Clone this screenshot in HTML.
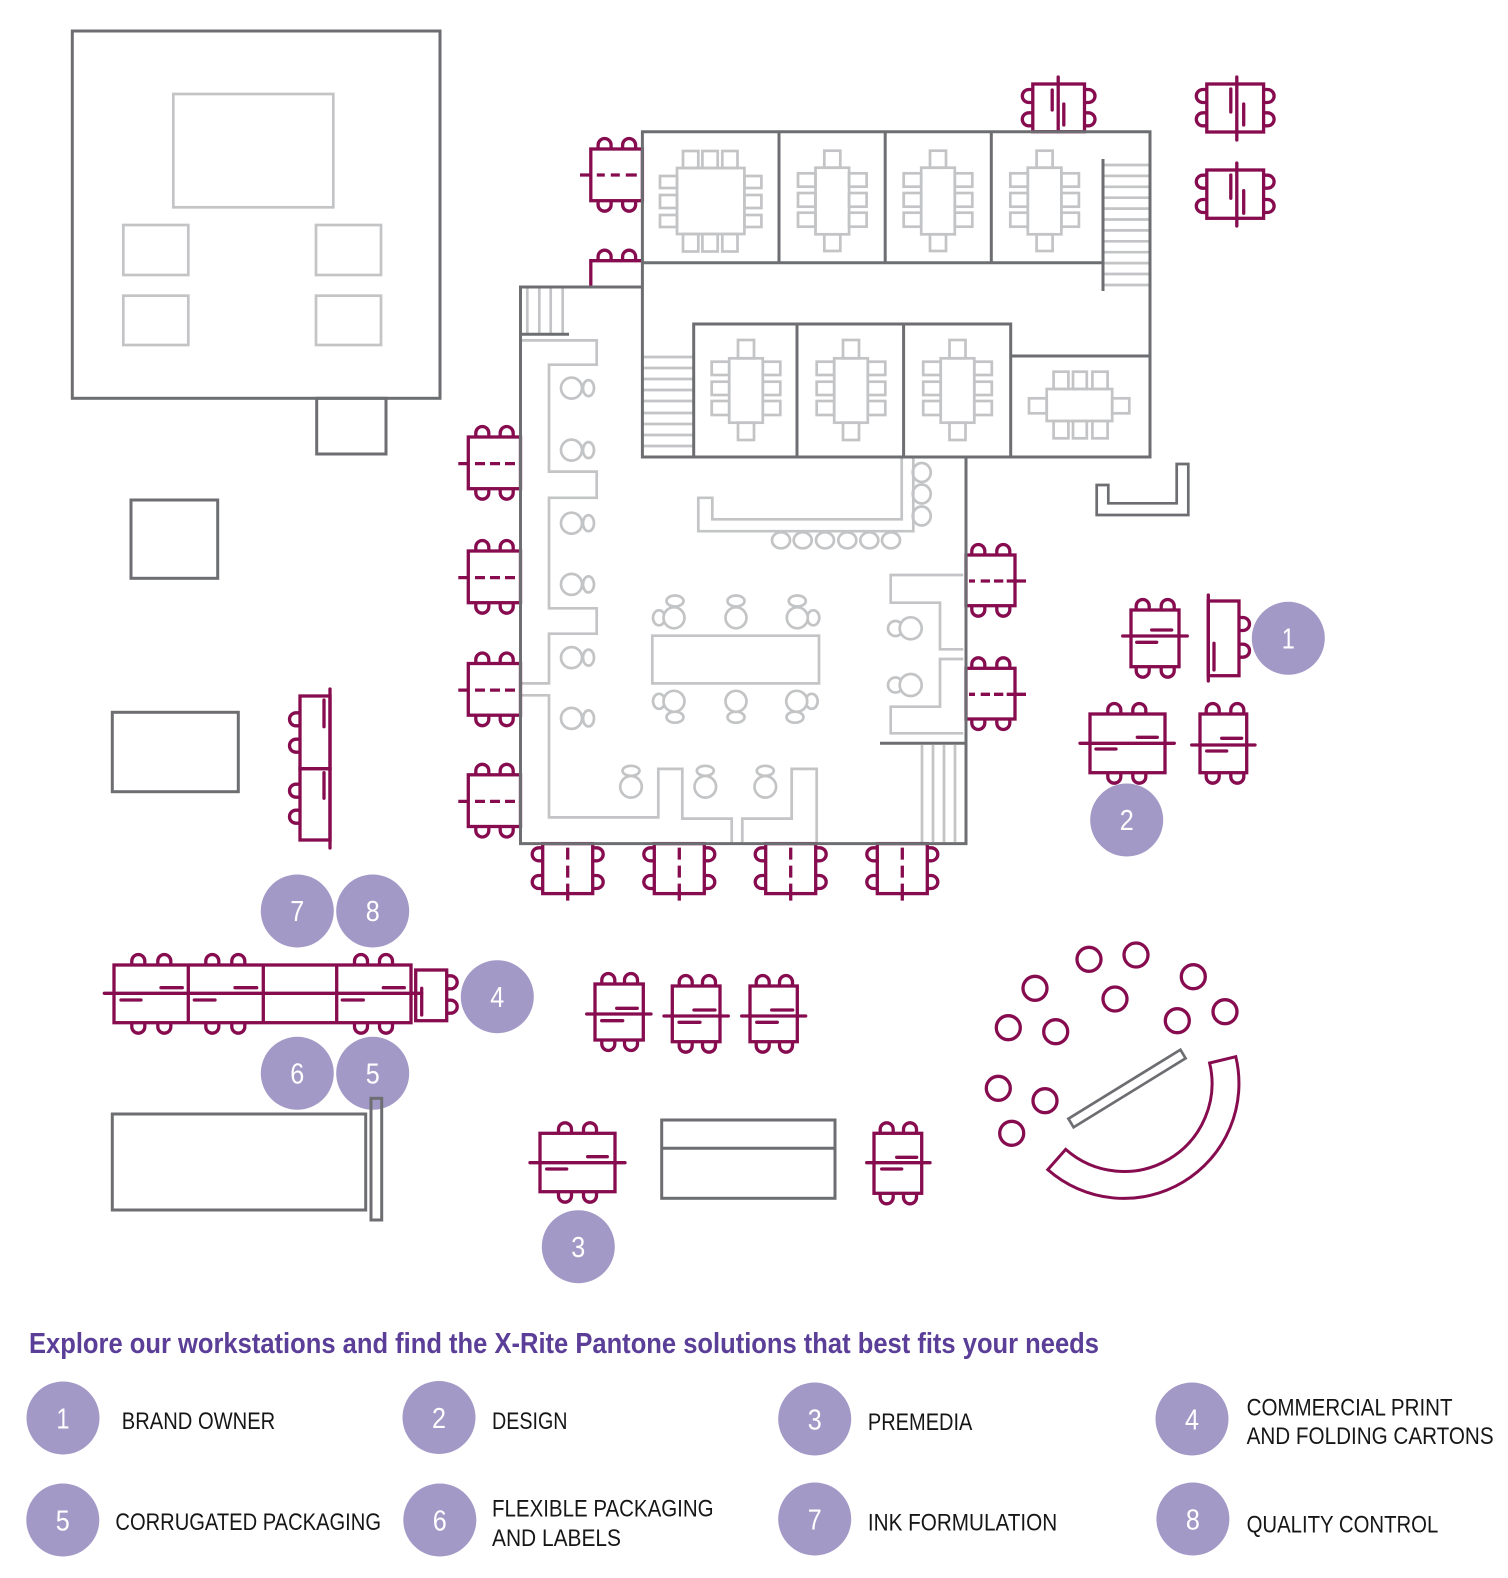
<!DOCTYPE html>
<html><head><meta charset="utf-8"><style>
html,body{margin:0;padding:0;background:#fff;}
svg{display:block;}
.dk{fill:none;stroke:#6d6e71;stroke-width:3;}
.lt{fill:none;stroke:#c3c4c6;stroke-width:2.7;}
.ltw{fill:#fff;stroke:#c3c4c6;stroke-width:2.7;}
.m{fill:none;stroke:#870c4f;stroke-width:3.3;}
.mr{fill:none;stroke:#870c4f;stroke-width:3.3;stroke-linecap:round;}
.cir{fill:#a399c7;}
.num{fill:#fff;font-family:"Liberation Sans",sans-serif;font-size:29px;text-anchor:middle;}
.lg{fill:#161616;font-family:"Liberation Sans",sans-serif;font-size:24px;}
</style></head><body>
<svg width="1508" height="1578" viewBox="0 0 1508 1578" xmlns="http://www.w3.org/2000/svg">
<rect width="1508" height="1578" fill="#fff"/>

<!-- LEFT BUILDING -->
<rect class="dk" x="72.3" y="31" width="367.7" height="367.3"/>
<rect class="lt" x="173.3" y="94" width="160" height="113.3"/>
<rect class="lt" x="123.3" y="225" width="65" height="50"/>
<rect class="lt" x="123.3" y="295.7" width="65" height="49.3"/>
<rect class="lt" x="316" y="225" width="65" height="50"/>
<rect class="lt" x="316" y="295.7" width="65" height="49.3"/>
<rect class="dk" x="316.7" y="398.3" width="69.3" height="55.7"/>
<rect class="dk" x="131" y="500" width="86.7" height="78.3"/>
<rect class="dk" x="112.3" y="712.3" width="126" height="79.4"/>

<!-- STAIRS (light) -->
<path class="lt" d="M1103,165H1150M1103,175.9H1150M1103,186.8H1150M1103,197.7H1150M1103,208.6H1150M1103,219.5H1150M1103,230.4H1150M1103,241.3H1150M1103,252.2H1150M1103,263.1H1150M1103,274H1150M1103,285H1150"/>
<path class="lt" d="M642.4,357H693.7M642.4,368H693.7M642.4,379H693.7M642.4,390H693.7M642.4,401H693.7M642.4,413H693.7M642.4,424H693.7M642.4,435H693.7M642.4,446H693.7"/>
<path class="lt" d="M527.3,288V333M539.3,288V333M550.7,288V333M562.7,288V333"/>
<path class="lt" d="M922,745V842M933,745V842M944,745V842M955,745V842"/>

<!-- MEETING ROOM TABLES -->
<g class="lt">
<rect x="677" y="168" width="67.4" height="66"/>
<rect x="683" y="151" width="15.3" height="17"/><rect x="702.4" y="151" width="15.3" height="17"/><rect x="722.3" y="151" width="15.2" height="17"/>
<rect x="683" y="234" width="15.3" height="17.5"/><rect x="702.4" y="234" width="15.3" height="17.5"/><rect x="722.3" y="234" width="15.2" height="17.5"/>
<rect x="660" y="176" width="17" height="12"/><rect x="660" y="195" width="17" height="13"/><rect x="660" y="215" width="17" height="12"/>
<rect x="744.4" y="176" width="17" height="12"/><rect x="744.4" y="195" width="17" height="13"/><rect x="744.4" y="215" width="17" height="12"/>
</g>
<g class="lt" transform="translate(832.3,0)">
<rect x="-16.8" y="167.7" width="33.6" height="66.6"/><rect x="-8" y="150.7" width="16" height="17"/><rect x="-8" y="234.3" width="16" height="16.7"/>
<rect x="-34.3" y="173.3" width="17.5" height="13.4"/><rect x="-34.3" y="193" width="17.5" height="13.7"/><rect x="-34.3" y="212.7" width="17.5" height="14"/>
<rect x="16.8" y="173.3" width="17.5" height="13.4"/><rect x="16.8" y="193" width="17.5" height="13.7"/><rect x="16.8" y="212.7" width="17.5" height="14"/>
</g>
<g class="lt" transform="translate(938,0)">
<rect x="-16.8" y="167.7" width="33.6" height="66.6"/><rect x="-8" y="150.7" width="16" height="17"/><rect x="-8" y="234.3" width="16" height="16.7"/>
<rect x="-34.3" y="173.3" width="17.5" height="13.4"/><rect x="-34.3" y="193" width="17.5" height="13.7"/><rect x="-34.3" y="212.7" width="17.5" height="14"/>
<rect x="16.8" y="173.3" width="17.5" height="13.4"/><rect x="16.8" y="193" width="17.5" height="13.7"/><rect x="16.8" y="212.7" width="17.5" height="14"/>
</g>
<g class="lt" transform="translate(1044.6,0)">
<rect x="-16.8" y="167.7" width="33.6" height="66.6"/><rect x="-8" y="150.7" width="16" height="17"/><rect x="-8" y="234.3" width="16" height="16.7"/>
<rect x="-34.3" y="173.3" width="17.5" height="13.4"/><rect x="-34.3" y="193" width="17.5" height="13.7"/><rect x="-34.3" y="212.7" width="17.5" height="14"/>
<rect x="16.8" y="173.3" width="17.5" height="13.4"/><rect x="16.8" y="193" width="17.5" height="13.7"/><rect x="16.8" y="212.7" width="17.5" height="14"/>
</g>
<g class="lt" transform="translate(746,0)">
<rect x="-16.8" y="358.3" width="33.6" height="64.4"/><rect x="-8" y="340" width="16" height="18.3"/><rect x="-8" y="422.7" width="16" height="17.3"/>
<rect x="-34.3" y="361.7" width="17.5" height="13.3"/><rect x="-34.3" y="381.7" width="17.5" height="13.3"/><rect x="-34.3" y="401" width="17.5" height="14"/>
<rect x="16.8" y="361.7" width="17.5" height="13.3"/><rect x="16.8" y="381.7" width="17.5" height="13.3"/><rect x="16.8" y="401" width="17.5" height="14"/>
</g>
<g class="lt" transform="translate(851,0)">
<rect x="-16.8" y="358.3" width="33.6" height="64.4"/><rect x="-8" y="340" width="16" height="18.3"/><rect x="-8" y="422.7" width="16" height="17.3"/>
<rect x="-34.3" y="361.7" width="17.5" height="13.3"/><rect x="-34.3" y="381.7" width="17.5" height="13.3"/><rect x="-34.3" y="401" width="17.5" height="14"/>
<rect x="16.8" y="361.7" width="17.5" height="13.3"/><rect x="16.8" y="381.7" width="17.5" height="13.3"/><rect x="16.8" y="401" width="17.5" height="14"/>
</g>
<g class="lt" transform="translate(957.5,0)">
<rect x="-16.8" y="358.3" width="33.6" height="64.4"/><rect x="-8" y="340" width="16" height="18.3"/><rect x="-8" y="422.7" width="16" height="17.3"/>
<rect x="-34.3" y="361.7" width="17.5" height="13.3"/><rect x="-34.3" y="381.7" width="17.5" height="13.3"/><rect x="-34.3" y="401" width="17.5" height="14"/>
<rect x="16.8" y="361.7" width="17.5" height="13.3"/><rect x="16.8" y="381.7" width="17.5" height="13.3"/><rect x="16.8" y="401" width="17.5" height="14"/>
</g>
<g class="lt">
<rect x="1046.7" y="389" width="65.5" height="32"/>
<rect x="1053.6" y="371.7" width="14.8" height="17.3"/><rect x="1073" y="371.7" width="13.8" height="17.3"/><rect x="1092.4" y="371.7" width="15.2" height="17.3"/>
<rect x="1053.6" y="421" width="14.8" height="17.3"/><rect x="1073" y="421" width="13.8" height="17.3"/><rect x="1092.4" y="421" width="15.2" height="17.3"/>
<rect x="1029" y="398.3" width="17.7" height="15"/><rect x="1112.2" y="398.3" width="17.1" height="15"/>
</g>

<!-- LOUNGE (light gray) -->
<g class="lt">
<path d="M520.5,340.4H596.7V364.7H549V471.6H596.7V497.8H549V608.3H596.7V633.7H549V683.4H520.5"/>
<path d="M520.5,695.3H549V817.4H658.3V768.9H682.3V818.6H731.7V843.6"/>
<path d="M742.3,843.6V818.6H791.7V768.9H816.7V843.6"/>
<path d="M698.3,531.2V497.8H712.3V519.3H901.7V457H913.3V531.2Z"/>
<path d="M963.3,575H890.7V602.7H940V649.3H963.3"/>
<path d="M963.3,659H940V706.7H890.7V733.3H963.3"/>
<rect x="652.3" y="635.7" width="166.7" height="47.7"/>
</g>
<!-- left column stools -->
<g>
<ellipse class="lt" cx="588.5" cy="388.1" rx="5.5" ry="8"/><circle class="ltw" cx="571.5" cy="388.1" r="10.5"/>
<ellipse class="lt" cx="588.5" cy="450.1" rx="5.5" ry="8"/><circle class="ltw" cx="571.5" cy="450.1" r="10.5"/>
<ellipse class="lt" cx="588.5" cy="523.2" rx="5.5" ry="8"/><circle class="ltw" cx="571.5" cy="523.2" r="10.5"/>
<ellipse class="lt" cx="588.5" cy="584.4" rx="5.5" ry="8"/><circle class="ltw" cx="571.5" cy="584.4" r="10.5"/>
<ellipse class="lt" cx="588.5" cy="657.6" rx="5.5" ry="8"/><circle class="ltw" cx="571.5" cy="657.6" r="10.5"/>
<ellipse class="lt" cx="588.5" cy="718.4" rx="5.5" ry="8"/><circle class="ltw" cx="571.5" cy="718.4" r="10.5"/>
</g>
<!-- table stools -->
<g>
<ellipse class="lt" cx="675" cy="601" rx="8.5" ry="5.5"/><ellipse class="lt" cx="659" cy="617.8" rx="6" ry="7.5"/><circle class="ltw" cx="674" cy="617.8" r="10.5"/>
<ellipse class="lt" cx="736" cy="601" rx="8.5" ry="5.5"/><circle class="ltw" cx="736" cy="617.8" r="10.5"/>
<ellipse class="lt" cx="797.3" cy="601" rx="8.5" ry="5.5"/><ellipse class="lt" cx="813.3" cy="617.8" rx="6" ry="7.5"/><circle class="ltw" cx="797.3" cy="617.8" r="10.5"/>
<ellipse class="lt" cx="675" cy="717.2" rx="8.5" ry="5.5"/><ellipse class="lt" cx="659" cy="701.3" rx="6" ry="7.5"/><circle class="ltw" cx="674" cy="701.3" r="10.5"/>
<ellipse class="lt" cx="736" cy="717.2" rx="8.5" ry="5.5"/><circle class="ltw" cx="736" cy="701.3" r="10.5"/>
<ellipse class="lt" cx="795" cy="717.2" rx="8.5" ry="5.5"/><ellipse class="lt" cx="811.7" cy="701.3" rx="6" ry="7.5"/><circle class="ltw" cx="796.7" cy="701.3" r="10.5"/>
</g>
<!-- bottom stools -->
<g>
<ellipse class="lt" cx="631" cy="770.8" rx="8.5" ry="5"/><circle class="ltw" cx="631" cy="786.8" r="10.8"/>
<ellipse class="lt" cx="705.3" cy="770.8" rx="8.5" ry="5"/><circle class="ltw" cx="705.3" cy="786.8" r="10.8"/>
<ellipse class="lt" cx="765.3" cy="770.8" rx="8.5" ry="5"/><circle class="ltw" cx="765.3" cy="786.8" r="10.8"/>
</g>
<!-- bar stools -->
<g class="lt">
<ellipse cx="781" cy="540.3" rx="9" ry="8"/><ellipse cx="802.7" cy="540.3" rx="9" ry="8"/><ellipse cx="825" cy="540.3" rx="9" ry="8"/>
<ellipse cx="847.3" cy="540.3" rx="9" ry="8"/><ellipse cx="869.3" cy="540.3" rx="9" ry="8"/><ellipse cx="891" cy="540.3" rx="9" ry="8"/>
<ellipse cx="921.7" cy="472.5" rx="9" ry="9.5"/><ellipse cx="921.7" cy="494" rx="9" ry="9.5"/><ellipse cx="921.7" cy="516" rx="9" ry="9.5"/>
</g>
<!-- right panel stools -->
<g>
<circle class="lt" cx="895.5" cy="628.5" r="7.5"/><circle class="ltw" cx="910.7" cy="628.3" r="11"/>
<circle class="lt" cx="895.5" cy="685" r="7.5"/><circle class="ltw" cx="910.7" cy="685" r="11"/>
</g>

<!-- MAGENTA DESKS -->
<!-- left side of main building -->
<g class="m" transform="translate(468.3,437)"><rect width="52.2" height="51.7"/><path d="M7.5,0v-4a6.5,6.5 0 0 1 13,0v4M31.9,0v-4a6.5,6.5 0 0 1 13,0v4M7.5,51.7v4a6.5,6.5 0 0 0 13,0v-4M31.9,51.7v4a6.5,6.5 0 0 0 13,0v-4"/><path d="M-10,26.6H0M6.7,26.6H16.7M21.7,26.6H31.7M36.7,26.6H46.7"/></g>
<g class="m" transform="translate(468.3,551)"><rect width="52.2" height="51.7"/><path d="M7.5,0v-4a6.5,6.5 0 0 1 13,0v4M31.9,0v-4a6.5,6.5 0 0 1 13,0v4M7.5,51.7v4a6.5,6.5 0 0 0 13,0v-4M31.9,51.7v4a6.5,6.5 0 0 0 13,0v-4"/><path d="M-10,26.6H0M6.7,26.6H16.7M21.7,26.6H31.7M36.7,26.6H46.7"/></g>
<g class="m" transform="translate(468.3,663.5)"><rect width="52.2" height="51.7"/><path d="M7.5,0v-4a6.5,6.5 0 0 1 13,0v4M31.9,0v-4a6.5,6.5 0 0 1 13,0v4M7.5,51.7v4a6.5,6.5 0 0 0 13,0v-4M31.9,51.7v4a6.5,6.5 0 0 0 13,0v-4"/><path d="M-10,26.6H0M6.7,26.6H16.7M21.7,26.6H31.7M36.7,26.6H46.7"/></g>
<g class="m" transform="translate(468.3,774.8)"><rect width="52.2" height="51.7"/><path d="M7.5,0v-4a6.5,6.5 0 0 1 13,0v4M31.9,0v-4a6.5,6.5 0 0 1 13,0v4M7.5,51.7v4a6.5,6.5 0 0 0 13,0v-4M31.9,51.7v4a6.5,6.5 0 0 0 13,0v-4"/><path d="M-10,26.6H0M6.7,26.6H16.7M21.7,26.6H31.7M36.7,26.6H46.7"/></g>
<!-- right side of main building -->
<g class="m" transform="translate(966,555)"><rect width="49" height="50.7"/><path d="M5.8,0v-4a6.5,6.5 0 0 1 13,0v4M30.8,0v-4a6.5,6.5 0 0 1 13,0v4M5.8,50.7v4a6.5,6.5 0 0 0 13,0v-4M30.8,50.7v4a6.5,6.5 0 0 0 13,0v-4"/><path d="M3,26H9M14.7,26H24M28,26H37.3M40.7,26H60"/></g>
<g class="m" transform="translate(966,668.3)"><rect width="49" height="50.7"/><path d="M5.8,0v-4a6.5,6.5 0 0 1 13,0v4M30.8,0v-4a6.5,6.5 0 0 1 13,0v4M5.8,50.7v4a6.5,6.5 0 0 0 13,0v-4M30.8,50.7v4a6.5,6.5 0 0 0 13,0v-4"/><path d="M3,26H9M14.7,26H24M28,26H37.3M40.7,26H60"/></g>
<!-- top-left desks -->
<g class="m" transform="translate(590.8,149)"><rect width="51.6" height="51.7"/><path d="M7.3,0v-4a6.5,6.5 0 0 1 13,0v4M31.8,0v-4a6.5,6.5 0 0 1 13,0v4M7.3,51.7v4a6.5,6.5 0 0 0 13,0v-4M31.8,51.7v4a6.5,6.5 0 0 0 13,0v-4"/><path d="M-10.8,26H0M6,26H14M20,26H29M35,26H46"/></g>
<g class="m"><path d="M590.8,287V260.7H642.4M598.1,260.7v-4a6.5,6.5 0 0 1 13,0v4M622.6,260.7v-4a6.5,6.5 0 0 1 13,0v4"/></g>
<!-- bottom of main building -->
<g class="m" transform="translate(542.7,843.6)"><rect width="50" height="50"/><path d="M0,4.2h-4a6.5,6.5 0 0 0 0,13h4M0,31.9h-4a6.5,6.5 0 0 0 0,13h4M50,4.2h4a6.5,6.5 0 0 1 0,13h-4M50,31.9h4a6.5,6.5 0 0 1 0,13h-4"/><path d="M25,4V16M25,22V34M25,40V57"/></g>
<g class="m" transform="translate(654.3,843.6)"><rect width="50" height="50"/><path d="M0,4.2h-4a6.5,6.5 0 0 0 0,13h4M0,31.9h-4a6.5,6.5 0 0 0 0,13h4M50,4.2h4a6.5,6.5 0 0 1 0,13h-4M50,31.9h4a6.5,6.5 0 0 1 0,13h-4"/><path d="M25,4V16M25,22V34M25,40V57"/></g>
<g class="m" transform="translate(765.7,843.6)"><rect width="50" height="50"/><path d="M0,4.2h-4a6.5,6.5 0 0 0 0,13h4M0,31.9h-4a6.5,6.5 0 0 0 0,13h4M50,4.2h4a6.5,6.5 0 0 1 0,13h-4M50,31.9h4a6.5,6.5 0 0 1 0,13h-4"/><path d="M25,4V16M25,22V34M25,40V57"/></g>
<g class="m" transform="translate(877.3,843.6)"><rect width="50" height="50"/><path d="M0,4.2h-4a6.5,6.5 0 0 0 0,13h4M0,31.9h-4a6.5,6.5 0 0 0 0,13h4M50,4.2h4a6.5,6.5 0 0 1 0,13h-4M50,31.9h4a6.5,6.5 0 0 1 0,13h-4"/><path d="M25,4V16M25,22V34M25,40V57"/></g>
<!-- top rotated desks -->
<g class="m" transform="translate(1032.8,84)"><rect width="51.7" height="47.7"/><path d="M0,5.5h-4a6.5,6.5 0 0 0 0,13h4M0,28.8h-4a6.5,6.5 0 0 0 0,13h4M51.7,5.5h4a6.5,6.5 0 0 1 0,13h-4M51.7,28.8h4a6.5,6.5 0 0 1 0,13h-4"/><path class="mr" d="M25.4,-7V47.7M19.4,6V26M31,20V41"/></g>
<g class="m" transform="translate(1206.8,84)"><rect width="56.8" height="48"/><path d="M0,5.5h-4a6.5,6.5 0 0 0 0,13h4M0,28.8h-4a6.5,6.5 0 0 0 0,13h4M56.8,5.5h4a6.5,6.5 0 0 1 0,13h-4M56.8,28.8h4a6.5,6.5 0 0 1 0,13h-4"/><path class="mr" d="M30,-7V56M24,5V28M36.9,20V41"/></g>
<g class="m" transform="translate(1206.8,170)"><rect width="56.8" height="48.3"/><path d="M0,5.2h-4a6.5,6.5 0 0 0 0,13h4M0,29.5h-4a6.5,6.5 0 0 0 0,13h4M56.8,5.2h4a6.5,6.5 0 0 1 0,13h-4M56.8,29.5h4a6.5,6.5 0 0 1 0,13h-4"/><path class="mr" d="M30,-7V56M24,5V28.3M36.9,20.7V43.3"/></g>

<!-- right cluster -->
<g class="m">
<rect x="1131" y="610" width="48" height="56.7"/>
<path d="M1136.2,610v-4a6.5,6.5 0 0 1 13,0v4M1161.2,610v-4a6.5,6.5 0 0 1 13,0v4M1136.2,666.7v4a6.5,6.5 0 0 0 13,0v-4M1161.2,666.7v4a6.5,6.5 0 0 0 13,0v-4"/>
<path class="mr" d="M1122.7,636H1187.3M1151.7,630H1171.7M1136.7,642.3H1156.7"/>
<rect x="1208.3" y="601" width="30.7" height="74.7"/>
<path d="M1239,617.5h4a6.5,6.5 0 0 1 0,13h-4M1239,644.2h4a6.5,6.5 0 0 1 0,13h-4"/>
<path class="mr" d="M1208.3,595V681M1214,643.3V670"/>
<rect x="1090" y="714" width="75" height="58.7"/>
<path d="M1107.8,714v-4a6.5,6.5 0 0 1 13,0v4M1132.8,714v-4a6.5,6.5 0 0 1 13,0v4M1107.8,772.7v4a6.5,6.5 0 0 0 13,0v-4M1132.8,772.7v4a6.5,6.5 0 0 0 13,0v-4"/>
<path class="mr" d="M1080,743.3H1174.3M1137.3,737.3H1157.3M1096,749H1116"/>
<rect x="1200" y="714" width="46.7" height="58.7"/>
<path d="M1206.2,714v-4a6.5,6.5 0 0 1 13,0v4M1230.8,714v-4a6.5,6.5 0 0 1 13,0v4M1206.2,772.7v4a6.5,6.5 0 0 0 13,0v-4M1230.8,772.7v4a6.5,6.5 0 0 0 13,0v-4"/>
<path class="mr" d="M1191.7,745H1255M1221.7,738.3H1241.7M1206.7,751H1226.7"/>
</g>

<!-- bottom middle desks -->
<g class="m">
<rect x="595" y="984" width="48.3" height="56"/>
<path d="M601.8,984v-4a6.5,6.5 0 0 1 13,0v4M624.5,984v-4a6.5,6.5 0 0 1 13,0v4M601.8,1040v4a6.5,6.5 0 0 0 13,0v-4M624.5,1040v4a6.5,6.5 0 0 0 13,0v-4"/>
<path class="mr" d="M586.7,1014H651M616.7,1008.3H637.3M601.7,1020.7H622.7"/>
<rect x="672.3" y="986" width="47.7" height="55.7"/>
<path d="M679.2,986v-4a6.5,6.5 0 0 1 13,0v4M702.5,986v-4a6.5,6.5 0 0 1 13,0v4M679.2,1041.7v4a6.5,6.5 0 0 0 13,0v-4M702.5,1041.7v4a6.5,6.5 0 0 0 13,0v-4"/>
<path class="mr" d="M664,1016H728.3M694,1010H715M679,1022.3H700"/>
<rect x="750" y="986" width="47.3" height="55.7"/>
<path d="M756.2,986v-4a6.5,6.5 0 0 1 13,0v4M779.5,986v-4a6.5,6.5 0 0 1 13,0v4M756.2,1041.7v4a6.5,6.5 0 0 0 13,0v-4M779.5,1041.7v4a6.5,6.5 0 0 0 13,0v-4"/>
<path class="mr" d="M741.7,1016H805.7M771.7,1010H792.7M756.7,1022.3H777.3"/>
<rect x="540" y="1133.3" width="75" height="58.4"/>
<path d="M558.5,1133.3v-4a6.5,6.5 0 0 1 13,0v4M583.5,1133.3v-4a6.5,6.5 0 0 1 13,0v4M558.5,1191.7v4a6.5,6.5 0 0 0 13,0v-4M583.5,1191.7v4a6.5,6.5 0 0 0 13,0v-4"/>
<path class="mr" d="M530,1162.7H625M587.7,1156.7H607.3M546.7,1169H566.7"/>
<rect x="874" y="1133.3" width="47.7" height="60"/>
<path d="M880.2,1133.3v-4a6.5,6.5 0 0 1 13,0v4M903.5,1133.3v-4a6.5,6.5 0 0 1 13,0v4M880.2,1193.3v4a6.5,6.5 0 0 0 13,0v-4M903.5,1193.3v4a6.5,6.5 0 0 0 13,0v-4"/>
<path class="mr" d="M866.7,1162.7H930M896.7,1157.3H916.7M881.7,1169H901.7"/>
</g>

<!-- left vertical desk pair -->
<g class="m">
<rect x="300" y="696" width="30" height="72.7"/>
<rect x="300" y="768.7" width="30" height="71.3"/>
<path d="M300,712.8h-4a6.5,6.5 0 0 0 0,13h4M300,739.2h-4a6.5,6.5 0 0 0 0,13h4M300,784.2h-4a6.5,6.5 0 0 0 0,13h4M300,810.2h-4a6.5,6.5 0 0 0 0,13h4"/>
<path class="mr" d="M330,689V848M324,700V726.7M324,772.7V798.3"/>
</g>

<!-- bottom-left desk row -->
<g class="m">
<rect x="114" y="965" width="297" height="57.7"/>
<path d="M188.3,965V1022.7M263.3,965V1022.7M336.7,965V1022.7"/>
<path d="M131.8,965v-4a6.5,6.5 0 0 1 13,0v4M157.8,965v-4a6.5,6.5 0 0 1 13,0v4M205.8,965v-4a6.5,6.5 0 0 1 13,0v4M231.8,965v-4a6.5,6.5 0 0 1 13,0v4M354.5,965v-4a6.5,6.5 0 0 1 13,0v4M379.5,965v-4a6.5,6.5 0 0 1 13,0v4"/>
<path d="M131.8,1022.7v4a6.5,6.5 0 0 0 13,0v-4M157.8,1022.7v4a6.5,6.5 0 0 0 13,0v-4M205.8,1022.7v4a6.5,6.5 0 0 0 13,0v-4M231.8,1022.7v4a6.5,6.5 0 0 0 13,0v-4M354.5,1022.7v4a6.5,6.5 0 0 0 13,0v-4M379.5,1022.7v4a6.5,6.5 0 0 0 13,0v-4"/>
<path class="mr" d="M104.3,993.3H421.7M161,987.7H182.3M235,987.7H256.7M383.3,987.7H404.3M121,1000H141M194.3,1000H215M342.3,1000H363.3"/>
<rect x="415.7" y="970" width="31" height="50.7"/>
<path d="M446.7,975.8h4a6.5,6.5 0 0 1 0,13h-4M446.7,1000.2h4a6.5,6.5 0 0 1 0,13h-4"/>
<path class="mr" d="M421.7,988.3V1015"/>
</g>

<!-- MAIN BUILDING WALLS -->
<g class="dk">
<path d="M642.4,131.7H1150V457H642.4Z"/>
<path d="M642.4,262.7H1103M779,131.7V262.7M885.2,131.7V262.7M991.3,131.7V262.7M1103,159V291"/>
<path d="M693.7,457V324H1010.7V457M797,324V457M903.6,324V457M1010.7,356H1150"/>
<path d="M642.4,287H520.5V843.6H966V457"/>
<path d="M520.5,334.3H569"/>
<path d="M880,743.3H966"/>
<path d="M1096.7,485V515H1188.3V464H1176.7V503.3H1108.3V485Z" stroke-width="2.7"/>
</g>

<!-- other gray furniture -->
<g class="dk">
<rect x="661.7" y="1120" width="173.3" height="78.3"/>
<path d="M661.7,1148.3H835"/>
<rect x="112.3" y="1114" width="253.4" height="96"/>
<path d="M1068.4,1118.7L1073.6,1127.3L1185.6,1058.3L1180.4,1049.7Z" stroke-width="2.7"/>
</g>

<!-- round area -->
<g class="m">
<circle cx="1089" cy="959.3" r="12"/><circle cx="1136" cy="955" r="12"/><circle cx="1193.3" cy="976.7" r="12"/>
<circle cx="1035" cy="988.3" r="12"/><circle cx="1115" cy="999" r="12"/><circle cx="1225" cy="1011.7" r="12"/>
<circle cx="1177.3" cy="1020.7" r="12"/><circle cx="1008.3" cy="1027.7" r="12"/><circle cx="1055.7" cy="1031.7" r="12"/>
<circle cx="998.3" cy="1088.3" r="12"/><circle cx="1045" cy="1100.7" r="12"/><circle cx="1011.7" cy="1133.3" r="12"/>
<path d="M1235.8,1056.7A115,115 0 0 1 1047.8,1169.6L1065.7,1149.4A88,88 0 0 0 1209.6,1063Z" stroke-width="3"/>
</g>

<!-- NUMBER CIRCLES (map) -->
<g>
<circle class="cir" cx="1288.3" cy="638.3" r="36.5"/>
<circle class="cir" cx="1126.7" cy="820" r="36.5"/>
<circle class="cir" cx="578.3" cy="1246.7" r="36.5"/>
<circle class="cir" cx="497.3" cy="996.7" r="36.5"/>
<circle class="cir" cx="372.7" cy="1073.3" r="36.5"/>
<circle class="cir" cx="297.3" cy="1073.3" r="36.5"/>
<circle class="cir" cx="297.3" cy="911" r="36.5"/>
<circle class="cir" cx="372.7" cy="911" r="36.5"/>
</g>
<rect x="371" y="1098.3" width="10.7" height="121.7" fill="none" stroke="#6d6e71" stroke-width="3"/>
<g class="num">
<text x="1288.3" y="648.5" textLength="13" lengthAdjust="spacingAndGlyphs">1</text>
<text x="1126.7" y="830.2" textLength="14" lengthAdjust="spacingAndGlyphs">2</text>
<text x="578.3" y="1256.9" textLength="14" lengthAdjust="spacingAndGlyphs">3</text>
<text x="497.3" y="1006.9" textLength="14" lengthAdjust="spacingAndGlyphs">4</text>
<text x="372.7" y="1083.5" textLength="14" lengthAdjust="spacingAndGlyphs">5</text>
<text x="297.3" y="1083.5" textLength="14" lengthAdjust="spacingAndGlyphs">6</text>
<text x="297.3" y="921.2" textLength="14" lengthAdjust="spacingAndGlyphs">7</text>
<text x="372.7" y="921.2" textLength="14" lengthAdjust="spacingAndGlyphs">8</text>
</g>

<!-- TITLE -->
<text x="29" y="1353" fill="#5b3e97" font-family="Liberation Sans, sans-serif" font-weight="bold" font-size="29" textLength="1070" lengthAdjust="spacingAndGlyphs">Explore our workstations and find the X-Rite Pantone solutions that best fits your needs</text>

<!-- LEGEND -->
<g>
<circle class="cir" cx="63" cy="1418" r="36.5"/>
<circle class="cir" cx="439" cy="1417.5" r="36.5"/>
<circle class="cir" cx="814.7" cy="1419" r="36.5"/>
<circle class="cir" cx="1192" cy="1419" r="36.5"/>
<circle class="cir" cx="62.8" cy="1520" r="36.5"/>
<circle class="cir" cx="439.8" cy="1520" r="36.5"/>
<circle class="cir" cx="814.7" cy="1519" r="36.5"/>
<circle class="cir" cx="1192.9" cy="1519" r="36.5"/>
</g>
<g class="num">
<text x="63" y="1428.5" textLength="13" lengthAdjust="spacingAndGlyphs">1</text>
<text x="439" y="1428" textLength="14" lengthAdjust="spacingAndGlyphs">2</text>
<text x="814.7" y="1429.5" textLength="14" lengthAdjust="spacingAndGlyphs">3</text>
<text x="1192" y="1429.5" textLength="14" lengthAdjust="spacingAndGlyphs">4</text>
<text x="62.8" y="1530.5" textLength="14" lengthAdjust="spacingAndGlyphs">5</text>
<text x="439.8" y="1530.5" textLength="14" lengthAdjust="spacingAndGlyphs">6</text>
<text x="814.7" y="1529.5" textLength="14" lengthAdjust="spacingAndGlyphs">7</text>
<text x="1192.9" y="1529.5" textLength="14" lengthAdjust="spacingAndGlyphs">8</text>
</g>
<g class="lg">
<text x="121.8" y="1429" textLength="153.4" lengthAdjust="spacingAndGlyphs">BRAND OWNER</text>
<text x="492" y="1429" textLength="75.5" lengthAdjust="spacingAndGlyphs">DESIGN</text>
<text x="867.9" y="1430" textLength="104.5" lengthAdjust="spacingAndGlyphs">PREMEDIA</text>
<text x="1246.6" y="1415.7" textLength="206" lengthAdjust="spacingAndGlyphs">COMMERCIAL PRINT</text>
<text x="1246.6" y="1444" textLength="247" lengthAdjust="spacingAndGlyphs">AND FOLDING CARTONS</text>
<text x="115.4" y="1530" textLength="265.6" lengthAdjust="spacingAndGlyphs">CORRUGATED PACKAGING</text>
<text x="492" y="1516.7" textLength="221.6" lengthAdjust="spacingAndGlyphs">FLEXIBLE PACKAGING</text>
<text x="492" y="1546" textLength="129" lengthAdjust="spacingAndGlyphs">AND LABELS</text>
<text x="867.9" y="1530.7" textLength="189.3" lengthAdjust="spacingAndGlyphs">INK FORMULATION</text>
<text x="1246.6" y="1532.3" textLength="191.7" lengthAdjust="spacingAndGlyphs">QUALITY CONTROL</text>
</g>
</svg>
</body></html>
